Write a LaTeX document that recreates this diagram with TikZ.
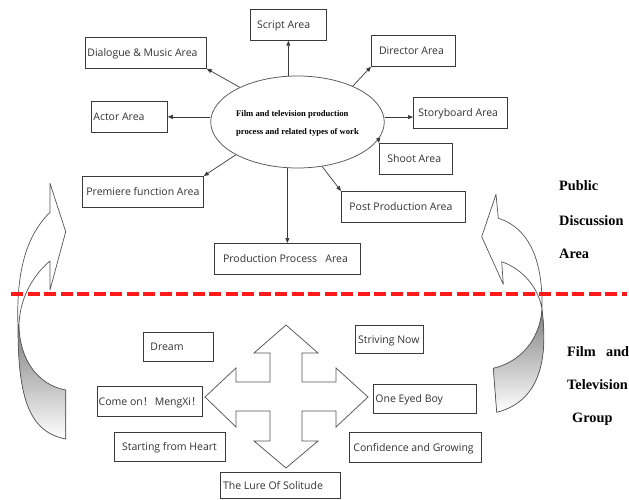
\documentclass[tikz,border=0pt]{standalone}
\usepackage{fontspec}
\setmainfont{Liberation Serif}
\newfontfamily\boxfont{Open Sans}
\newfontfamily\cjk{Noto Sans CJK SC}
\usetikzlibrary{arrows.meta,shapes.geometric,calc}
\definecolor{boxline}{HTML}{3A3A3A}
\definecolor{textcol}{HTML}{333333}
\definecolor{shapeline}{HTML}{555555}
\definecolor{shade}{HTML}{CCCCCC}
\definecolor{splitred}{HTML}{FF1A1A}
% fixed-width, left-aligned label inside an area box
\newcommand\bt[2]{\makebox[#1pt][l]{#2}}
\newcommand\fw{{\cjk ！}}

\begin{document}
\begin{tikzpicture}[x=1pt,y=-1pt,
  areabox/.style n args={2}{draw=boxline, line width=0.75pt, anchor=north west,
    inner xsep=#2pt, inner ysep=0pt, minimum height=#1pt,
    text height=8pt, text depth=0pt, text=textcol,
    font=\boxfont\fontsize{10.5}{12}\selectfont},
  arr/.style={draw=boxline, line width=0.7pt, -{Triangle[length=5pt,width=4pt]}},
  hub/.style={ellipse, draw=shapeline, line width=0.75pt, minimum width=149pt,
    minimum height=92pt, inner sep=0pt, text=black,
    font=\bfseries\fontsize{8.6}{17.3}\selectfont},
  sidelabel/.style={anchor=base west, inner sep=0pt, text=black,
    font=\bfseries\fontsize{14.3}{16}\selectfont},
  bentarrow/.style={draw=shapeline, line width=0.7pt, line join=round},
  crossline/.style={draw=shapeline, line width=0.75pt, fill=white, line join=miter},
  splitline/.style={draw=splitred, line width=3.6pt, dash pattern=on 12pt off 4.5pt}]

\useasboundingbox (0,0) rectangle (629,500);
\fill[white] (0,0) rectangle (629,500);

% ---------- production hub and its areas ----------
\node[hub] (ell) at (297.5,122) {\begin{tabular}{@{}l@{}}Film and television production\\process and related types of work\end{tabular}};

\node[areabox={31}{6.7}] (script) at (250,9)   {\bt{62.6}{Script Area}};
\node[areabox={31}{2}]   (dial)   at (85,37)   {\bt{117}{Dialogue \& Music Area}};
\node[areabox={31}{2}]   (actor)  at (91,101)  {\bt{72}{Actor Area}};
\node[areabox={31}{7.7}] (direc)  at (371,35)  {\bt{68.6}{Director Area}};
\node[areabox={31}{5}]   (story)  at (413,97)  {\bt{84}{Storyboard Area}};
\node[areabox={31}{8}]   (shoot)  at (379,143) {\bt{57}{Shoot Area}};
\node[areabox={31}{8}]   (post)   at (341,191) {\bt{108}{Post Production Area}};
\node[areabox={31}{4}]   (prem)   at (82,176)  {\bt{113}{Premiere function Area}};
\node[areabox={31}{8.7}] (prod)   at (214,243) {\bt{128.6}{Production Process~~~Area}};

\draw[arr] (ell.north -| script.south) -- (script.south);
\draw[arr] (ell.149) -- (dial.south east);
\draw[arr] (ell.west |- actor.east) -- (actor.east);
\draw[arr] (ell.33) -- (direc.south west);
\coordinate (storyin) at ($(story.west)+(0,4.2)$);
\draw[arr] (ell.east |- storyin) -- (storyin);
\draw[arr] (ell.-12) -- (shoot.north west);
\draw[arr] (ell.-61) -- (post.north west);
\draw[arr] (ell.208) -- (prem.north east);
\draw[arr] (ell.south -| prod.north) -- (prod.north);

% ---------- group works around the four-way arrow ----------
\draw[crossline] (286,325) -- (318,353) -- (302,353) -- (302,382) -- (336,382)
  -- (336,368) -- (368,397) -- (336,427) -- (336,411) -- (302,411) -- (302,441)
  -- (318,441) -- (286,468) -- (254,441) -- (270,441) -- (270,411) -- (236,411)
  -- (236,427) -- (205,397) -- (236,368) -- (236,382) -- (270,382) -- (270,353)
  -- (254,353) -- cycle;

\node[areabox={29}{7}]   (dream)  at (143,332) {\bt{56}{Dream}};
\node[areabox={28}{2.7}] (strive) at (355,325) {\bt{62.6}{Striving Now}};
\node[areabox={30}{1.3}] (comeon) at (97,386)  {\bt{102.4}{Come on\fw\hspace{1.5pt}MengXi\fw}};
\node[areabox={29}{2}]   (oneeye) at (373,384) {\bt{99}{One Eyed Boy}};
\node[areabox={29}{7.7}] (heart)  at (114,432) {\bt{95.6}{Starting from Heart}};
\node[areabox={30}{4}]   (grow)   at (349,432) {\bt{124}{Confidence and Growing}};
\node[areabox={26}{2.7}] (lure)   at (220,472) {\bt{114.6}{The Lure Of Solitude}};

% ---------- left curved arrow (pointing up into the discussion area) ----------
\fill[shade] (18,327) .. controls (18,400) and (30,432) .. (65.7,439)
  -- (65.7,390) .. controls (38,385) and (20,360) .. (19,327) -- cycle;
\draw[bentarrow] (18,327) .. controls (18,400) and (30,432) .. (65.7,439)
  -- (65.7,390) .. controls (38,385) and (20,360) .. (19,327);
\draw[bentarrow, fill=white] (50,212.3) -- (50,183.3) -- (65.7,231.7) -- (50,290)
  -- (50,261) .. controls (32,276) and (19,300) .. (19,327)
  -- (18,327) .. controls (16,272) and (26,236) .. (50,212.3) -- cycle;

% ---------- right curved arrow ----------
\fill[shade] (542,309) .. controls (547,350) and (545,400) .. (496.7,412.3)
  -- (493.3,368.3) .. controls (520,362) and (540,340) .. (542,309) -- cycle;
\draw[bentarrow] (542,309) .. controls (547,350) and (545,400) .. (496.7,412.3)
  -- (493.3,368.3) .. controls (520,362) and (540,340) .. (542,309);
\draw[bentarrow, fill=white] (498.3,218.3) -- (496,194.3) -- (481.7,236.7)
  -- (503.3,284.3) -- (501.7,261.7) .. controls (520,268) and (538,285) .. (542,309)
  .. controls (543,262) and (530,228) .. (498.3,218.3) -- cycle;

% ---------- dividing line ----------
\coordinate (splitL) at (11,294);
\coordinate (splitR) at (627,294);
\draw[splitline] (splitL) -- (splitR);

% ---------- side captions ----------
\node[sidelabel] (pub)  at (559,190.7) {Public};
\node[sidelabel] (disc) at (559,225)   {Discussion};
\node[sidelabel] (area) at (559,258.3) {Area};
\node[sidelabel] (film) at (567,356.7) {\hbox to 62pt{Film\hfill and}};
\node[sidelabel] (tv)   at (567,389)   {Television};
\node[sidelabel] (grp)  at (572,422.3) {Group};
\end{tikzpicture}
\end{document}
